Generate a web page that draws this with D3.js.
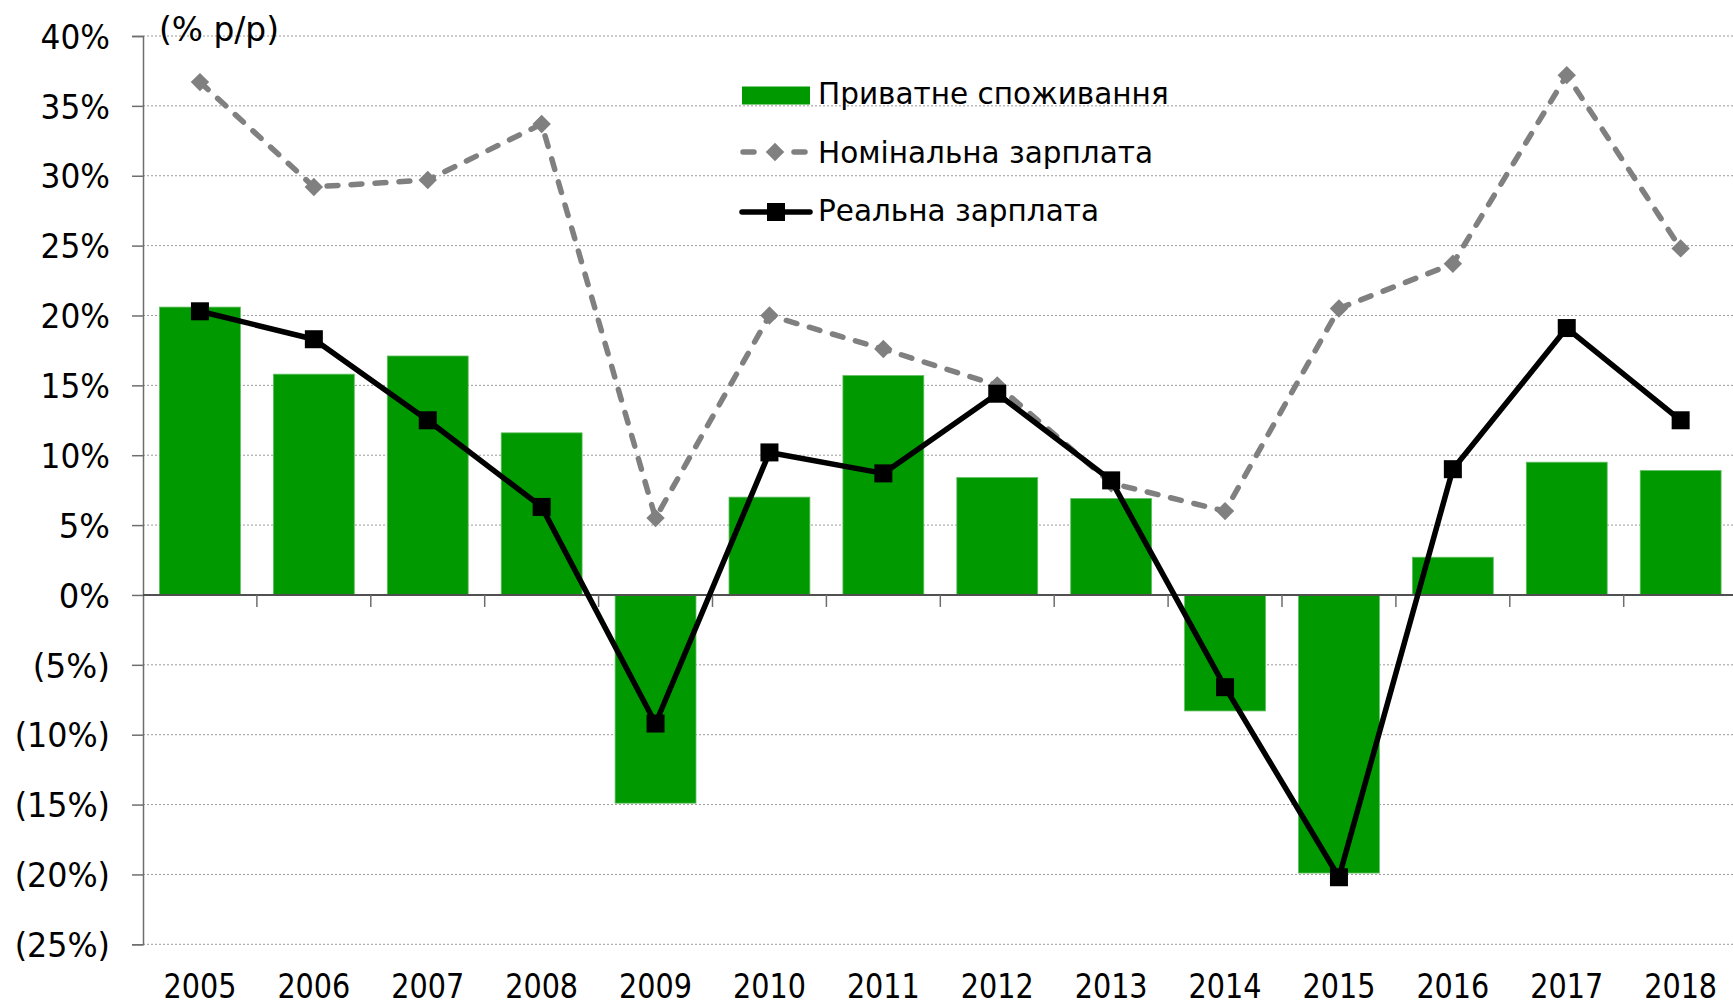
<!DOCTYPE html>
<html>
<head>
<meta charset="utf-8">
<script src="https://cdn.jsdelivr.net/npm/d3@7"></script>
<style>
  html, body { margin: 0; padding: 0; background: #fff; }
  svg { display: block; }
  .ax { font-family: "DejaVu Sans", sans-serif; font-stretch: condensed; font-size: 34px; fill: #000; }
  .lg { font-family: "DejaVu Sans", sans-serif; font-size: 29.5px; fill: #000; }
</style>
</head>
<body>
<svg id="chart" width="1733" height="1006"></svg>
<script>
const years = ["2005","2006","2007","2008","2009","2010","2011","2012","2013","2014","2015","2016","2017","2018"];
const consumption = [20.6, 15.8, 17.1, 11.6, -14.9, 7.0, 15.7, 8.4, 6.9, -8.3, -19.9, 2.7, 9.5, 8.9];
const nominalWage = [36.7, 29.2, 29.7, 33.7, 5.5, 20.0, 17.6, 15.0, 8.0, 6.0, 20.5, 23.7, 37.2, 24.8];
const realWage = [20.3, 18.3, 12.5, 6.3, -9.2, 10.2, 8.7, 14.4, 8.2, -6.6, -20.2, 9.0, 19.1, 12.5];
const yTicks = [-25, -20, -15, -10, -5, 0, 5, 10, 15, 20, 25, 30, 35, 40];
const seriesNames = ["Приватне споживання", "Номінальна зарплата", "Реальна зарплата"];
const unitLabel = "(% р/р)";

const svg = d3.select("#chart");
const mLeft = 143, step = 113.9, mTop = 36, mBottom = 944.3, rightEdge = 1733;
const axisFont = 34;

// approximate advance widths (em) of a Tahoma-like face, used to fit axis text widths
const adv = ch => ("0123456789".includes(ch) ? 0.536 : ch === "%" ? 0.969 : (ch === "(" || ch === ")") ? 0.382 :
  ch === " " ? 0.313 : ch === "/" ? 0.359 : ch === "р" ? 0.562 : 0.55);
const fitWidth = s => Array.from(s).reduce((a, c) => a + adv(c), 0) * axisFont;
function fit(sel) {
  sel.attr("textLength", function() { return fitWidth(this.textContent); })
     .attr("lengthAdjust", "spacingAndGlyphs");
}

const x = d3.scaleBand().domain(years).range([mLeft, mLeft + step * years.length])
  .paddingInner(0.29).paddingOuter(0.145);
const y = d3.scaleLinear().domain([-25, 40]).range([mBottom, mTop]);
const fmt = v => v < 0 ? `(${-v}%)` : `${v}%`;

// gridlines
svg.append("g").selectAll("line").data(yTicks.filter(v => v !== 0)).join("line")
  .attr("x1", mLeft).attr("x2", rightEdge)
  .attr("y1", d => y(d)).attr("y2", d => y(d))
  .attr("stroke", "#9a9a9a").attr("stroke-width", 1).attr("stroke-dasharray", "2,2");

// bars
svg.append("g").selectAll("rect").data(years).join("rect")
  .attr("x", d => x(d))
  .attr("width", x.bandwidth())
  .attr("y", (d, i) => y(Math.max(0, consumption[i])))
  .attr("height", (d, i) => Math.abs(y(consumption[i]) - y(0)))
  .attr("fill", "#009900").attr("stroke", "#5fbf5f").attr("stroke-width", 0.8);

// y axis
const yAxis = svg.append("g").attr("transform", `translate(${mLeft},0)`)
  .call(d3.axisLeft(y).tickValues(yTicks).tickFormat(fmt).tickSize(11).tickPadding(22));
yAxis.attr("font-family", null).attr("font-size", null);
yAxis.select(".domain").attr("stroke", "#6e6e6e").attr("stroke-width", 1.5);
yAxis.selectAll(".tick line").attr("stroke", "#6e6e6e").attr("stroke-width", 1.5);
yAxis.selectAll(".tick text").attr("class", "ax").attr("fill", null).attr("dy", "0.36em").call(fit);

// x axis line at zero and boundary ticks
const x0 = y(0);
svg.append("line").attr("x1", mLeft).attr("x2", rightEdge).attr("y1", x0).attr("y2", x0)
  .attr("stroke", "#505050").attr("stroke-width", 2);
svg.append("g").selectAll("line").data(d3.range(1, years.length)).join("line")
  .attr("x1", i => x.range()[0] + i * x.step()).attr("x2", i => x.range()[0] + i * x.step())
  .attr("y1", x0).attr("y2", x0 + 12)
  .attr("stroke", "#6e6e6e").attr("stroke-width", 1.5);
svg.append("g").selectAll("text").data(years).join("text")
  .attr("class", "ax").attr("x", d => x(d) + x.bandwidth() / 2).attr("y", 998)
  .attr("text-anchor", "middle").text(d => d).call(fit);

// unit label
svg.append("text").attr("class", "ax").attr("x", 159).attr("y", 41).text(unitLabel).call(fit);

const cx = d => x(d) + x.bandwidth() / 2;

// nominal wage: dashed gray with diamonds
const nomLine = d3.line().x((d, i) => cx(years[i])).y(d => y(d));
svg.append("path").datum(nominalWage).attr("d", nomLine)
  .attr("fill", "none").attr("stroke", "#808080").attr("stroke-width", 5.5)
  .attr("stroke-dasharray", "11,13").attr("stroke-linecap", "round").attr("stroke-linejoin", "round");
const diamond = d3.symbol().type(d3.symbolSquare).size(170);
svg.append("g").selectAll("path").data(nominalWage).join("path")
  .attr("d", diamond)
  .attr("transform", (d, i) => `translate(${cx(years[i])},${y(d)}) rotate(45)`)
  .attr("fill", "#808080");

// real wage: solid black with squares
const realLine = d3.line().x((d, i) => cx(years[i])).y(d => y(d));
svg.append("path").datum(realWage).attr("d", realLine)
  .attr("fill", "none").attr("stroke", "#000").attr("stroke-width", 5.5).attr("stroke-linejoin", "round");
svg.append("g").selectAll("rect").data(realWage).join("rect")
  .attr("x", (d, i) => cx(years[i]) - 9).attr("y", d => y(d) - 9)
  .attr("width", 18).attr("height", 18).attr("fill", "#000");

// legend
const lg = svg.append("g");
lg.append("rect").attr("x", 742).attr("y", 86.5).attr("width", 68).attr("height", 18).attr("fill", "#009900");
lg.append("text").attr("class", "lg").attr("x", 818).attr("y", 104).text(seriesNames[0]);

lg.append("line").attr("x1", 743).attr("x2", 754).attr("y1", 152).attr("y2", 152)
  .attr("stroke", "#808080").attr("stroke-width", 5.5).attr("stroke-linecap", "round");
lg.append("line").attr("x1", 794).attr("x2", 805).attr("y1", 152).attr("y2", 152)
  .attr("stroke", "#808080").attr("stroke-width", 5.5).attr("stroke-linecap", "round");
lg.append("path").attr("d", diamond).attr("transform", "translate(775,152) rotate(45)").attr("fill", "#808080");
lg.append("text").attr("class", "lg").attr("x", 818).attr("y", 162.5).text(seriesNames[1]);

lg.append("line").attr("x1", 742).attr("x2", 810).attr("y1", 212).attr("y2", 212)
  .attr("stroke", "#000").attr("stroke-width", 5.5).attr("stroke-linecap", "round");
lg.append("rect").attr("x", 767).attr("y", 203).attr("width", 18).attr("height", 18).attr("fill", "#000");
lg.append("text").attr("class", "lg").attr("x", 818).attr("y", 221).text(seriesNames[2]);
</script>
</body>
</html>
